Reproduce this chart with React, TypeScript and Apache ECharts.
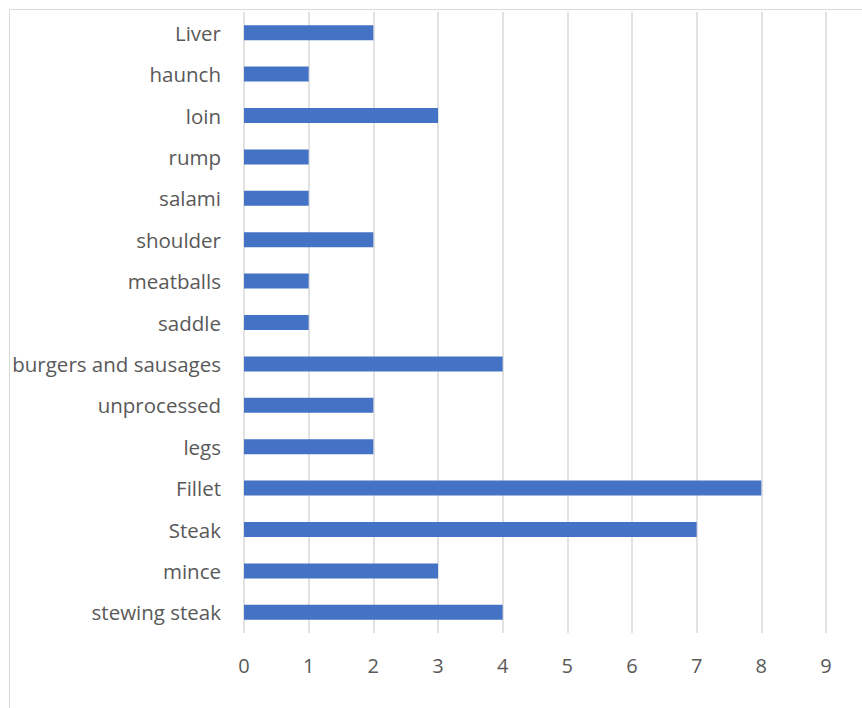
import React, { useEffect, useRef } from "react";
import * as echarts from "echarts";

const categories = [
  "stewing steak",
  "mince",
  "Steak",
  "Fillet",
  "legs",
  "unprocessed",
  "burgers and sausages",
  "saddle",
  "meatballs",
  "shoulder",
  "salami",
  "rump",
  "loin",
  "haunch",
  "Liver",
];
const values = [4, 3, 7, 8, 2, 2, 4, 1, 1, 2, 1, 1, 3, 1, 2];
const xMin = 0;
const xMax = 9;
const xInterval = 1;

export default function App() {
  const ref = useRef<HTMLDivElement>(null);
  useEffect(() => {
    if (!ref.current) return;
    const chart = echarts.init(ref.current, undefined, { renderer: "svg" });
    const font = "'Open Sans', 'DejaVu Sans', sans-serif";
    chart.setOption({
      animation: false,
      backgroundColor: "#ffffff",
      graphic: [
        {
          type: "line",
          shape: { x1: 9.5, y1: 9.5, x2: 870, y2: 9.5 },
          style: { stroke: "#d9d9d9", lineWidth: 1 },
        },
        {
          type: "line",
          shape: { x1: 9.5, y1: 9.5, x2: 9.5, y2: 720 },
          style: { stroke: "#d9d9d9", lineWidth: 1 },
        },
      ],
      grid: { left: 244, right: 36, top: 12, bottom: 75, containLabel: false },
      xAxis: {
        type: "value",
        min: xMin,
        max: xMax,
        interval: xInterval,
        axisLine: { show: false },
        axisTick: { show: false },
        splitLine: { show: true, lineStyle: { color: "#d9d9d9", width: 1.5 } },
        axisLabel: { color: "#595959", fontSize: 20, fontFamily: font, margin: 22 },
      },
      yAxis: {
        type: "category",
        data: categories,
        axisLine: { show: false },
        axisTick: { show: false },
        splitLine: { show: false },
        axisLabel: { color: "#595959", fontSize: 20.5, fontFamily: font, margin: 23 },
      },
      series: [
        {
          type: "bar",
          data: values,
          barWidth: 15,
          itemStyle: { color: "#4472C4" },
        },
      ],
    });
    return () => chart.dispose();
  }, []);
  return (
    <div
      ref={ref}
      style={{ position: "absolute", left: 0, top: 0, width: 862, height: 708 }}
    />
  );
}
